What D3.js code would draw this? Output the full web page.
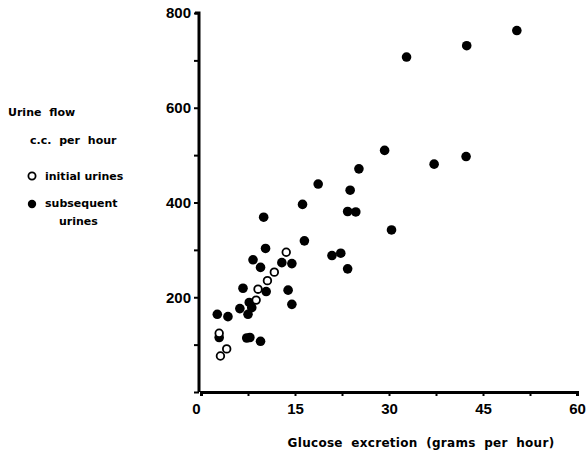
<!doctype html>
<html>
<head>
<meta charset="utf-8"/>
<script src="https://cdnjs.cloudflare.com/ajax/libs/d3/7.8.5/d3.min.js"></script>
<style>
  body { margin: 0; background: #fff; }
  svg { font-family: "DejaVu Sans", sans-serif; font-weight: bold; }
</style>
</head>
<body>
<svg width="587" height="455"></svg>
<script>
// glucose excretion (g/h) and urine flow (cc/h)
var subsequentX = [50.4, 42.4, 32.8, 29.3, 37.2, 42.3, 25.2, 18.7, 23.8, 16.2, 23.4, 24.7, 30.4,
  16.5, 20.9, 22.3, 23.4, 10.0, 10.3, 8.3, 9.5, 12.9, 14.5, 6.7, 10.4, 13.9, 14.5, 7.7, 6.2,
  8.1, 7.5, 2.6, 4.3, 2.9, 7.3, 7.8, 9.5];
var subsequentY = [763, 731, 707, 510, 481, 497, 471, 439, 426, 396, 381, 380, 342,
  319, 288, 293, 260, 369, 303, 279, 263, 273, 271, 219, 212, 215, 185, 189, 176,
  178, 164, 164, 159, 115, 114, 115, 107];
var initialX = [13.6, 11.7, 10.6, 9.1, 8.8, 2.9, 4.1, 3.1];
var initialY = [295, 253, 235, 217, 194, 124, 91, 76];

var xTicks = [0, 15, 30, 45, 60];
var yTicks = [200, 400, 600, 800];

var svg = d3.select("svg");

var xScale = d3.scaleLinear().domain([0, 60]).range([201, 577]);
var yScale = d3.scaleLinear().domain([0, 800]).range([392, 13]);

// x axis
var xAxis = d3.axisBottom(xScale)
  .tickValues(d3.range(0, 61, 7.5))
  .tickSize(4)
  .tickPadding(7)
  .tickFormat(function (d) { return xTicks.indexOf(d) >= 0 ? d : ""; });

var gx = svg.append("g").attr("transform", "translate(0,392)").call(xAxis);
gx.select(".domain").attr("stroke-width", 3);
gx.selectAll(".tick line").attr("stroke-width", 2);
gx.selectAll("text").attr("font-size", 15).attr("font-weight", "bold").attr("fill", "#000");
gx.selectAll(".tick").filter(function (d) { return d == 0; }).select("text").attr("dx", -5);

// y axis
var yAxis = d3.axisLeft(yScale)
  .tickValues(d3.range(0, 801, 100))
  .tickSize(5)
  .tickPadding(3)
  .tickFormat(function (d) { return yTicks.indexOf(d) >= 0 ? d : ""; });

var gy = svg.append("g").attr("transform", "translate(199,0)").call(yAxis);
gy.select(".domain").attr("stroke-width", 3).attr("d", "M-4,13H0V392");
gy.selectAll(".tick line").attr("stroke-width", 2);
gy.selectAll("text").attr("font-size", 15).attr("font-weight", "bold").attr("fill", "#000");

// points
svg.append("g").selectAll("circle")
  .data(subsequentX)
  .join("circle")
  .attr("cx", function (d) { return xScale(d); })
  .attr("cy", function (d, i) { return yScale(subsequentY[i]); })
  .attr("r", 4.8)
  .attr("fill", "#000");

svg.append("g").selectAll("circle")
  .data(initialX)
  .join("circle")
  .attr("cx", function (d) { return xScale(d); })
  .attr("cy", function (d, i) { return yScale(initialY[i]); })
  .attr("r", 3.8)
  .attr("fill", "#fff")
  .attr("stroke", "#000")
  .attr("stroke-width", 1.8);

// axis title
svg.append("text")
  .attr("x", 421).attr("y", 447)
  .attr("text-anchor", "middle")
  .attr("font-size", 12)
  .attr("word-spacing", 4)
  .attr("letter-spacing", 0.3)
  .text("Glucose excretion (grams per hour)");

// legend
var leg = svg.append("g").attr("font-size", 11);
leg.append("text").attr("x", 8).attr("y", 116).attr("word-spacing", 4).text("Urine flow");
leg.append("text").attr("x", 30).attr("y", 144).attr("word-spacing", 4).text("c.c. per hour");
leg.append("circle").attr("cx", 32).attr("cy", 176).attr("r", 3.6)
  .attr("fill", "#fff").attr("stroke", "#000").attr("stroke-width", 1.8);
leg.append("text").attr("x", 45).attr("y", 180).text("initial urines");
leg.append("circle").attr("cx", 32).attr("cy", 204).attr("r", 4.2).attr("fill", "#000");
leg.append("text").attr("x", 45).attr("y", 207).text("subsequent");
leg.append("text").attr("x", 59).attr("y", 225).text("urines");
</script>
</body>
</html>
